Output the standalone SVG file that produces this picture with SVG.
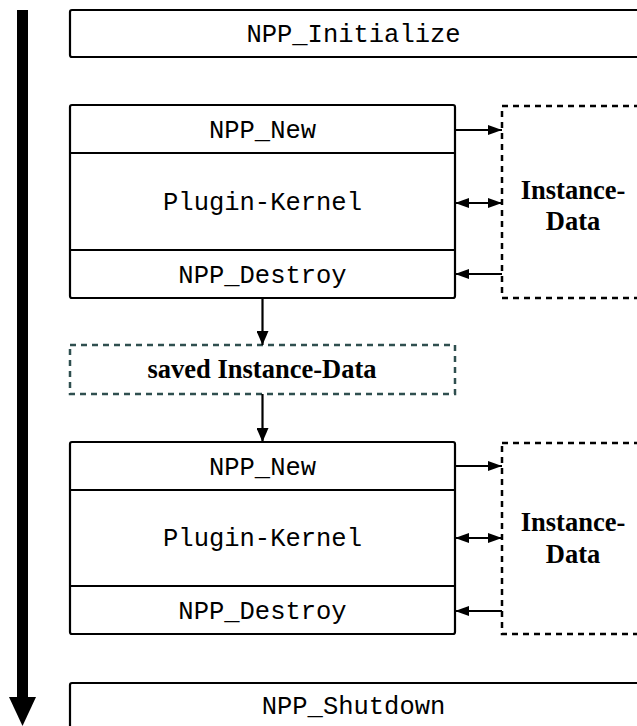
<svg xmlns="http://www.w3.org/2000/svg" width="637" height="726" viewBox="0 0 637 726">
<defs>
<style>
.box{fill:#fff;stroke:#000;stroke-width:2.2}
.div{stroke:#000;stroke-width:2.2}
.dash{fill:#fff;stroke:#000;stroke-width:2.5;stroke-dasharray:6 5}
.saved{fill:#fff;stroke:#2f4f4f;stroke-width:2.5;stroke-dasharray:6 5}
.mono{font-family:"Liberation Mono","Courier New",monospace;font-size:25.5px;fill:#000;text-anchor:middle}
.bold{font-family:"Liberation Serif","Times New Roman",serif;font-size:26.5px;font-weight:bold;fill:#000;text-anchor:middle}
.conn{stroke:#000;stroke-width:2.2;fill:none}
</style>
<marker id="ah" viewBox="0 0 14 10" refX="14" refY="5" markerWidth="14" markerHeight="10" markerUnits="userSpaceOnUse" orient="auto-start-reverse">
<path d="M0,0 L14,5 L0,10 Z" fill="#000"/>
</marker>
<marker id="av" viewBox="0 0 12 14" refX="6" refY="14" markerWidth="12" markerHeight="14" markerUnits="userSpaceOnUse" orient="0">
<path d="M0,0 L12,0 L6,14 Z" fill="#000"/>
</marker>
</defs>

<g id="timeline">
<rect x="17" y="10" width="11" height="688" fill="#000"/>
<path d="M9,697 L36,697 L22.5,726 Z" fill="#000"/>
</g>

<g id="npp-initialize">
<rect class="box" x="70" y="10" width="580" height="47" rx="2"/>
<text class="mono" x="353.5" y="42">NPP_Initialize</text>
</g>

<g id="instance1">
<rect class="box" x="70" y="105" width="385" height="193" rx="2"/>
<line class="div" x1="70" y1="153" x2="455" y2="153"/>
<line class="div" x1="70" y1="250" x2="455" y2="250"/>
<text class="mono" x="262.5" y="138">NPP_New</text>
<text class="mono" x="262.5" y="210">Plugin-Kernel</text>
<text class="mono" x="262.5" y="283">NPP_Destroy</text>
</g>

<g id="instance-data1">
<rect class="dash" x="502" y="106" width="160" height="192"/>
<text class="bold" x="573" y="199">Instance-</text>
<text class="bold" x="573" y="230">Data</text>
</g>

<g id="saved-data">
<rect class="saved" x="70" y="345" width="385" height="49"/>
<text class="bold" x="262" y="378">saved Instance-Data</text>
</g>

<g id="instance2">
<rect class="box" x="70" y="442" width="385" height="192" rx="2"/>
<line class="div" x1="70" y1="490" x2="455" y2="490"/>
<line class="div" x1="70" y1="586" x2="455" y2="586"/>
<text class="mono" x="262.5" y="475">NPP_New</text>
<text class="mono" x="262.5" y="546">Plugin-Kernel</text>
<text class="mono" x="262.5" y="619">NPP_Destroy</text>
</g>

<g id="instance-data2">
<rect class="dash" x="502" y="443" width="160" height="191"/>
<text class="bold" x="573" y="531">Instance-</text>
<text class="bold" x="573" y="563">Data</text>
</g>

<g id="npp-shutdown">
<rect class="box" x="70" y="683" width="580" height="60" rx="2"/>
<text class="mono" x="353.5" y="714">NPP_Shutdown</text>
</g>

<g id="connectors">
<line class="conn" x1="455" y1="130" x2="502" y2="130" marker-end="url(#ah)"/>
<line class="conn" x1="455" y1="203" x2="502" y2="203" marker-start="url(#ah)" marker-end="url(#ah)"/>
<line class="conn" x1="502" y1="274" x2="455" y2="274" marker-end="url(#ah)"/>
<line class="conn" x1="262.5" y1="298" x2="262.5" y2="345" marker-end="url(#av)"/>
<line class="conn" x1="262.5" y1="394" x2="262.5" y2="442" marker-end="url(#av)"/>
<line class="conn" x1="455" y1="466" x2="502" y2="466" marker-end="url(#ah)"/>
<line class="conn" x1="455" y1="538" x2="502" y2="538" marker-start="url(#ah)" marker-end="url(#ah)"/>
<line class="conn" x1="502" y1="611" x2="455" y2="611" marker-end="url(#ah)"/>
</g>
</svg>
